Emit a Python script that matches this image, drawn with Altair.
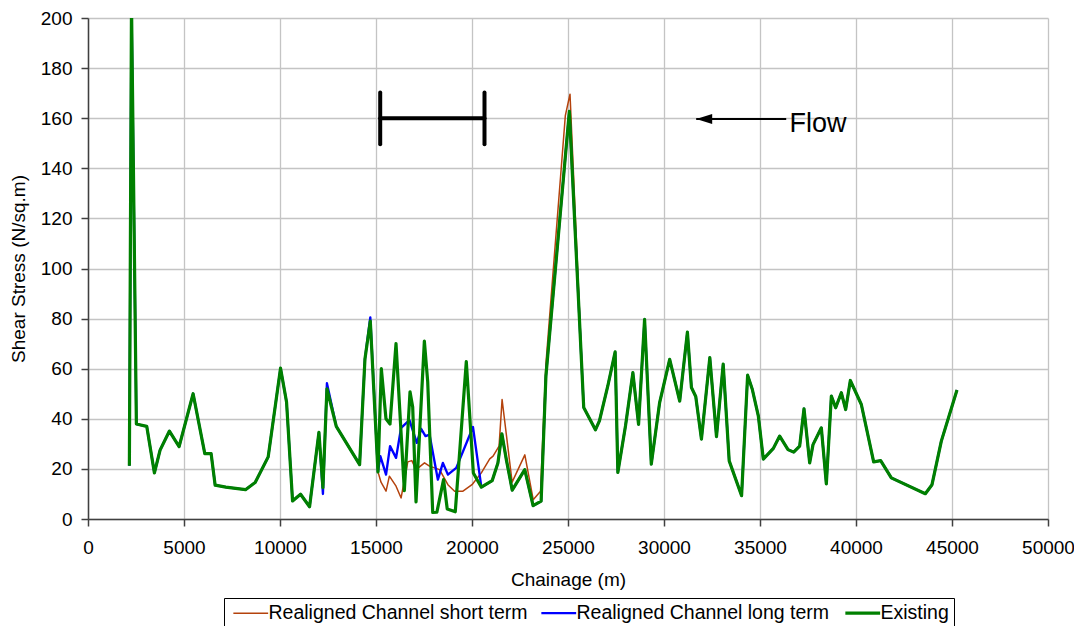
import altair as alt
import pandas as pd

S_NAME = "Realigned Channel short term"
L_NAME = "Realigned Channel long term"
E_NAME = "Existing"
series_names = [S_NAME, L_NAME, E_NAME]
series_colors = ["#b4420c", "#0000ff", "#008000"]
series_widths = [1.5, 3.2, 3.4]

# common upstream part (all three series)
head_x = [2155, 2265, 2520, 3059, 3459, 3754, 4241, 4745, 5475, 6083, 6413, 6622, 7178,
          8203, 8707, 9385, 10028, 10341, 10654, 11071, 11540, 12027]
head_y = [21.3, 206, 37.9, 37.0, 18.4, 27.5, 35.1, 28.9, 50.0, 26.1, 26.1, 13.5, 12.7,
          11.7, 14.6, 24.8, 60.2, 46.7, 7.2, 9.9, 4.9, 34.6]

# middle reach, Existing
existing_mid_x = [12236, 12444, 12931, 14147, 14425, 14703, 15103, 15277, 15520, 15729,
                  16042, 16476, 16772, 16911, 17085, 17519, 17693, 17954, 18170, 18519,
                  18711, 19129, 19703, 20070, 20487, 21050, 21350, 21556, 21788, 22095,
                  22748, 23182, 23600, 23850, 25070]
existing_mid_y = [12.5, 52, 37, 21.7, 63.9, 79, 18.8, 60, 40, 37.9,
                  70, 11.3, 50.8, 44.7, 6.8, 71, 54.8, 2.6, 2.7, 15.7,
                  4.0, 2.9, 62.8, 18.4, 12.7, 15.3, 22.4, 34, 23.7, 11.5,
                  19.7, 5.3, 7.1, 57, 162.7]

# middle reach, Realigned long term
long_mid_x = [12236, 12444, 12931, 14147, 14425, 14703, 15103, 15226, 15523, 15732,
              16045, 16307, 16742, 17125, 17352, 17578, 17787, 18223, 18484, 18745,
              19181, 20052, 20487, 21050, 21350, 21556, 21788, 22095, 22748, 23182,
              23600, 23850, 25070]
long_mid_y = [10, 54.2, 37, 21.7, 63.9, 80.5, 18.8, 25.1, 17.7, 29.1,
              24.4, 36.4, 39.5, 30.4, 36, 33.1, 33.7, 15.7, 22.4, 17.7,
              20.4, 36.7, 12.7, 15.3, 22.4, 34, 23.7, 11.5, 19.7, 5.3,
              7.1, 57, 162.7]

# middle reach, Realigned short term
short_mid_x = [12236, 12444, 12931, 14147, 14425, 14703, 15103, 15261, 15523, 15697,
               16045, 16307, 16655, 16864, 17090, 17526, 17787, 18310, 18745, 19094,
               19529, 20000, 20487, 20923, 21097, 21410, 21567, 22090, 22752, 23188,
               23570, 23850, 24861, 25104]
short_mid_y = [12.5, 52, 37, 21.7, 63.9, 79, 18.8, 14.7, 11.1, 17.1,
               13.1, 8.4, 22.8, 23.3, 19.7, 22.4, 21.1, 19.7, 13.7, 11.1,
               11.1, 13.7, 18.4, 24, 25.1, 29.1, 47.7, 14.7, 25.6, 7.7,
               11.1, 62, 161, 169.6]

# common downstream part
tail_x = [25819, 26428, 26637, 27073, 27456, 27596, 27996, 28379, 28675, 28989,
          29338, 29773, 30296, 30818, 31219, 31428, 31654, 31950, 32386, 32734,
          33083, 33396, 34041, 34355, 34598, 34912, 35173, 35696, 36025, 36459,
          36754, 37066, 37292, 37587, 37761, 38195, 38455, 38716, 38941, 39236,
          39462, 39705, 40278, 40920, 41285, 41840, 43611, 43958, 44444, 45260]
tail_y = [44.5, 35.6, 39.2, 53.1, 66.7, 18.6, 37.2, 58.4, 37.8, 79.7,
          21.9, 46.5, 63.7, 47.1, 74.6, 52.5, 48.9, 31.9, 64.4, 32.9,
          61.8, 23.2, 9.3, 57.4, 51.8, 41.2, 23.9, 28.2, 33.1, 27.7,
          26.7, 29.1, 44, 22.4, 29.7, 36.4, 14, 49.1, 44.4, 50.4,
          43.7, 55.3, 45.7, 22.8, 23.3, 16.4, 10.1, 13.7, 31.1, 51.5]

x_ticks = list(range(0, 50001, 5000))
y_ticks = list(range(0, 201, 20))

# annotations
bar_x1 = [15219, 15219, 20651]
bar_x2 = [20651, 15219, 20651]
bar_y1 = [160, 149.6, 149.6]
bar_y2 = [160, 170.3, 170.3]
arrow_x = [31677]
arrow_x2 = [36365]
arrow_y = [159.7]
flow_x = [36536]
flow_y = [154.6]
flow_text = ["Flow"]

FONT = "Liberation Sans"

rows = []
for name, xs, ys in [
    (S_NAME, head_x + short_mid_x + tail_x, head_y + short_mid_y + tail_y),
    (L_NAME, head_x + long_mid_x + tail_x, head_y + long_mid_y + tail_y),
    (E_NAME, head_x + existing_mid_x + tail_x, head_y + existing_mid_y + tail_y),
]:
    for xv, yv in zip(xs, ys):
        rows.append({"series": name, "x": xv, "y": yv})
df = pd.DataFrame(rows)

xscale = alt.Scale(domain=[0, 50000], nice=False, zero=False)
yscale = alt.Scale(domain=[0, 200], nice=False)
xaxis = alt.Axis(values=x_ticks, format="d", title="Chainage (m)", labelFlush=False,
                 labelOverlap=False)
yaxis = alt.Axis(values=y_ticks, format="d", title="Shear Stress (N/sq.m)",
                 labelOverlap=False)

color_scale = alt.Scale(domain=series_names, range=series_colors)
width_scale = alt.Scale(domain=series_names, range=series_widths)
legend = alt.Legend(
    title=None, orient="none", legendX=136, legendY=580, direction="horizontal",
    strokeColor="#000000", fillColor="#ffffff", padding=5,
    symbolType="M -2.9 0 L 2.9 0", symbolSize=144, symbolOffset=12,
    labelFontSize=19.5, labelFont=FONT, labelColor="#000000",
    labelOffset=8, columnPadding=8, labelLimit=400,
)


def series_layer(name):
    return alt.Chart(df).transform_filter(alt.datum.series == name).mark_line(
        clip=True, strokeJoin="round"
    ).encode(
        x=alt.X("x:Q", scale=xscale, axis=xaxis),
        y=alt.Y("y:Q", scale=yscale, axis=yaxis),
        color=alt.Color("series:N", scale=color_scale, legend=legend),
        strokeWidth=alt.StrokeWidth("series:N", scale=width_scale, legend=legend),
    )


bar_df = pd.DataFrame({"x1": bar_x1, "x2": bar_x2, "y1": bar_y1, "y2": bar_y2})
bar = alt.Chart(bar_df).mark_rule(strokeWidth=4, strokeCap="round", color="#000000").encode(
    x=alt.X("x1:Q", scale=xscale, axis=xaxis), x2="x2:Q",
    y=alt.Y("y1:Q", scale=yscale, axis=yaxis), y2="y2:Q",
)

arrow_df = pd.DataFrame({"x1": arrow_x, "x2": arrow_x2, "y1": arrow_y})
arrow_line = alt.Chart(arrow_df).mark_rule(strokeWidth=2, color="#000000").encode(
    x=alt.X("x1:Q", scale=xscale, axis=xaxis), x2="x2:Q",
    y=alt.Y("y1:Q", scale=yscale, axis=yaxis),
)
arrow_head = alt.Chart(arrow_df).mark_point(
    shape="M 0 0 L 2 -0.62 L 2 0.62 Z", filled=True, size=256, color="#000000", opacity=1
).encode(
    x=alt.X("x1:Q", scale=xscale, axis=xaxis),
    y=alt.Y("y1:Q", scale=yscale, axis=yaxis),
)

flow_df = pd.DataFrame({"x": flow_x, "y": flow_y, "t": flow_text})
flow = alt.Chart(flow_df).mark_text(
    align="left", baseline="alphabetic", fontSize=27, font=FONT, color="#000000"
).encode(
    x=alt.X("x:Q", scale=xscale, axis=xaxis),
    y=alt.Y("y:Q", scale=yscale, axis=yaxis),
    text="t:N",
)

chart = alt.layer(
    series_layer(S_NAME), series_layer(L_NAME), series_layer(E_NAME),
    bar, arrow_line, arrow_head, flow,
).properties(
    width=960, height=501,
    padding={"left": 80, "top": 10, "right": 26, "bottom": 108},
    autosize=alt.AutoSizeParams(type="none"),
).configure_view(stroke=None).configure_axis(
    labelFont=FONT, labelFontSize=19, labelColor="#000000",
    titleFont=FONT, titleFontSize=19, titleFontWeight="normal", titleColor="#000000",
    tickSize=7, tickColor="#404040", tickWidth=1.5,
    domainColor="#404040", domainWidth=1.5,
    gridColor="#c4c4c4", gridWidth=1.3,
).configure_axisX(labelPadding=12, titlePadding=13).configure_axisY(
    labelPadding=9, titlePadding=12
)

chart.save("out.html", embed_options={"renderer": "svg", "actions": False})
